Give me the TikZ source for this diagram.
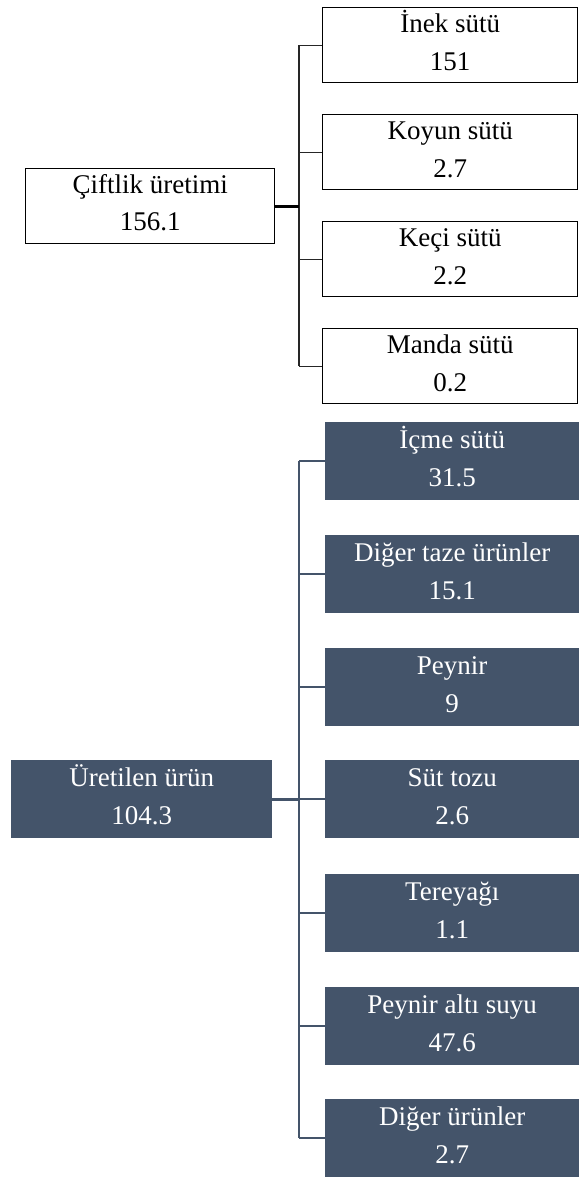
\documentclass[tikz,border=0pt]{standalone}
\usepackage{fontspec}
\setmainfont{Liberation Serif}
\newfontfamily\tnr{Liberation Serif}
\definecolor{slate}{HTML}{44546A}
\begin{document}
\begin{tikzpicture}[x=1pt,y=-1pt,
  topbox/.style={draw=black,line width=1.3pt,fill=white,rectangle,inner sep=0pt,anchor=north west},
  botbox/.style={draw=none,fill=slate,rectangle,inner sep=0pt,anchor=north west},
  lab/.style={font=\tnr\fontsize{27}{30}\selectfont,inner sep=0pt,anchor=base},
  wlab/.style={lab,text=white},
  topline/.style={draw=black!85,line width=1.3pt},
  topstem/.style={draw=black,line width=2.8pt},
  botline/.style={draw=slate,line width=1.8pt},
  botstem/.style={draw=slate,line width=2.8pt}]
\useasboundingbox (0,0) rectangle (579,1178);
% top tree
\node[topbox,minimum width=249pt,minimum height=75pt] (cift) at (25,168) {};
\node[topbox,minimum width=255pt,minimum height=75pt] (inek) at (322,7) {};
\node[topbox,minimum width=255pt,minimum height=75pt] (koyun) at (322,114) {};
\node[topbox,minimum width=255pt,minimum height=75pt] (keci) at (322,221) {};
\node[topbox,minimum width=255pt,minimum height=75pt] (manda) at (322,328) {};
\node[lab] (cift-a) at ([yshift=-25pt]cift.north) {Çiftlik üretimi};
\node[lab] (cift-b) at ([yshift=-62pt]cift.north) {156.1};
\node[lab] (inek-a) at ([yshift=-25pt]inek.north) {İnek sütü};
\node[lab] (inek-b) at ([yshift=-63pt]inek.north) {151};
\node[lab] (koyun-a) at ([yshift=-25pt]koyun.north) {Koyun sütü};
\node[lab] (koyun-b) at ([yshift=-63pt]koyun.north) {2.7};
\node[lab] (keci-a) at ([yshift=-25pt]keci.north) {Keçi sütü};
\node[lab] (keci-b) at ([yshift=-63pt]keci.north) {2.2};
\node[lab] (manda-a) at ([yshift=-25pt]manda.north) {Manda sütü};
\node[lab] (manda-b) at ([yshift=-63pt]manda.north) {0.2};
\coordinate (tb) at (299,0);
\draw[topline] (inek.west -| tb) -- (manda.west -| tb);
\foreach \n in {inek,koyun,keci,manda}{\draw[topline] (\n.west -| tb) -- (\n.west);}
\draw[topstem] (cift.east) -- (cift.east -| tb);
% bottom tree
\node[botbox,minimum width=261pt,minimum height=78pt] (uret) at (11,760) {};
\node[botbox,minimum width=254pt,minimum height=78pt] (icme) at (325,422) {};
\node[botbox,minimum width=254pt,minimum height=78pt] (taze) at (325,535) {};
\node[botbox,minimum width=254pt,minimum height=78pt] (peynir) at (325,648) {};
\node[botbox,minimum width=254pt,minimum height=78pt] (toz) at (325,760) {};
\node[botbox,minimum width=254pt,minimum height=78pt] (tere) at (325,874) {};
\node[botbox,minimum width=254pt,minimum height=78pt] (alti) at (325,987) {};
\node[botbox,minimum width=254pt,minimum height=78pt] (diger) at (325,1099) {};
\node[wlab] (uret-a) at ([yshift=-26pt]uret.north) {Üretilen ürün};
\node[wlab] (uret-b) at ([yshift=-64pt]uret.north) {104.3};
\node[wlab] (icme-a) at ([yshift=-26pt]icme.north) {İçme sütü};
\node[wlab] (icme-b) at ([yshift=-64pt]icme.north) {31.5};
\node[wlab] (taze-a) at ([yshift=-26pt]taze.north) {Diğer taze ürünler};
\node[wlab] (taze-b) at ([yshift=-64pt]taze.north) {15.1};
\node[wlab] (peynir-a) at ([yshift=-26pt]peynir.north) {Peynir};
\node[wlab] (peynir-b) at ([yshift=-64pt]peynir.north) {9};
\node[wlab] (toz-a) at ([yshift=-26pt]toz.north) {Süt tozu};
\node[wlab] (toz-b) at ([yshift=-64pt]toz.north) {2.6};
\node[wlab] (tere-a) at ([yshift=-26pt]tere.north) {Tereyağı};
\node[wlab] (tere-b) at ([yshift=-64pt]tere.north) {1.1};
\node[wlab] (alti-a) at ([yshift=-26pt]alti.north) {Peynir altı suyu};
\node[wlab] (alti-b) at ([yshift=-64pt]alti.north) {47.6};
\node[wlab] (diger-a) at ([yshift=-26pt]diger.north) {Diğer ürünler};
\node[wlab] (diger-b) at ([yshift=-64pt]diger.north) {2.7};
\coordinate (bb) at (299,0);
\draw[botline] (icme.west -| bb) -- (diger.west -| bb);
\foreach \n in {icme,taze,peynir,toz,tere,alti,diger}{\draw[botline] (\n.west -| bb) -- (\n.west);}
\draw[botstem] (uret.east) -- (uret.east -| bb);
\end{tikzpicture}
\end{document}
